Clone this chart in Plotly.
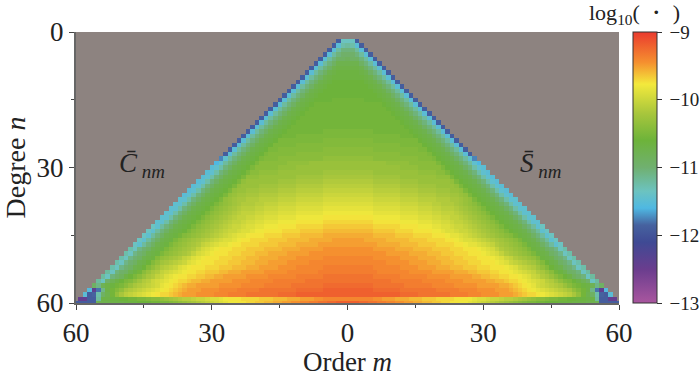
import plotly.graph_objects as go

# Cell readings, one list per degree n, for |order| = 0, 1, ... n.
# Unit: 1/20 of a decade above 1e-13 (80 = -9, 60 = -10, 40 = -11, 20 = -12, 0 = -13).
d02 = [33,33,22]
d03 = [36,35,30,22]
d04 = [39,39,36,30,22]
d05 = [41,41,39,36,30,22]
d06 = [43,42,42,39,36,30,22]
d07 = [45,45,45,42,39,36,30,22]
d08 = [46,46,46,45,42,39,36,30,22]
d09 = [47,47,47,46,45,42,39,36,30,22]
d10 = [47,47,47,47,46,45,42,39,36,30,22]
d11 = [48,48,48,48,47,46,45,42,39,36,30,22]
d12 = [48,48,48,48,48,47,46,45,42,39,36,30,22]
d13 = [48,48,48,48,48,48,47,46,45,42,39,36,30,22]
d14 = [48,48,48,48,48,48,48,47,46,45,42,39,36,30,22]
d15 = [49,49,49,49,48,48,48,48,47,46,45,42,39,36,30,22]
d16 = [49,49,49,49,49,49,49,49,48,47,46,45,42,39,36,30,22]
d17 = [49,49,49,49,49,49,49,49,49,48,47,46,45,42,39,36,30,22]
d18 = [49,49,49,49,49,49,49,49,49,49,48,47,46,45,42,39,36,30,22]
d19 = [49,49,49,49,49,49,49,49,49,49,49,48,47,46,45,42,39,36,30,22]
d20 = [49,49,49,49,49,49,49,49,49,49,49,49,48,47,46,45,42,39,36,30,22]
d21 = [49,49,49,49,49,49,49,49,49,49,49,49,49,48,47,46,45,42,39,36,30,22]
d22 = [50,50,50,50,50,50,49,49,49,49,49,49,49,49,48,47,46,45,42,39,36,30,22]
d23 = [50,50,50,50,50,50,50,50,50,50,50,50,49,49,49,48,47,46,45,42,39,36,30,22]
d24 = [51,51,51,51,51,51,50,50,50,50,50,50,50,50,50,50,48,47,46,45,42,39,36,30,22]
d25 = [51,51,51,51,51,51,51,51,51,51,51,51,50,50,50,50,50,48,47,46,45,42,39,36,30,22]
d26 = [52,52,52,52,52,52,51,51,51,51,51,51,51,51,51,51,50,50,48,47,46,45,42,39,36,30,22]
d27 = [52,52,52,52,52,52,52,52,52,52,52,52,51,51,51,51,51,51,50,48,47,46,45,42,39,36,30,22]
d28 = [53,53,53,53,53,53,52,52,52,52,52,52,52,52,52,52,51,51,51,50,48,47,46,45,42,39,36,31,25]
d29 = [54,54,54,54,54,54,54,54,54,53,53,53,53,53,52,52,52,52,52,52,50,48,47,46,45,42,39,36,31,28]
d30 = [54,54,54,54,54,54,54,54,54,54,54,54,53,53,53,53,52,52,52,52,52,50,48,47,46,45,42,39,35,31,30]
d31 = [55,55,55,55,55,55,54,54,54,54,54,54,54,54,54,54,53,53,53,53,52,52,50,48,47,46,45,42,39,35,31,30]
d32 = [56,56,56,56,56,56,55,55,55,55,55,55,54,54,54,54,54,54,54,54,53,53,53,50,48,47,46,45,42,39,35,31,30]
d33 = [57,57,57,57,57,57,56,56,56,56,56,56,55,55,55,55,54,54,54,54,54,54,54,53,50,48,47,46,45,42,39,35,31,30]
d34 = [58,58,58,58,58,58,57,57,57,57,57,57,56,56,56,56,55,55,55,55,54,54,54,54,53,50,48,47,46,45,42,39,35,31,30]
d35 = [59,59,59,59,59,59,58,58,58,58,58,58,57,57,57,57,56,56,56,56,55,55,55,54,54,53,50,48,47,46,45,42,39,35,31,30]
d36 = [60,60,60,60,60,60,59,59,59,59,59,59,58,58,58,58,57,57,57,57,56,56,56,55,55,54,53,50,48,47,46,45,42,39,35,31,30]
d37 = [61,61,61,61,61,61,60,60,60,60,60,60,59,59,59,59,58,58,58,58,57,57,57,56,56,55,54,53,50,48,47,46,45,42,39,35,31,31]
d38 = [62,62,62,62,62,62,61,61,61,61,61,61,60,60,60,60,59,59,59,58,58,57,57,57,56,55,54,53,52,50,48,47,46,45,42,39,35,31,31]
d39 = [63,63,63,63,63,63,62,62,62,62,62,62,61,61,61,61,60,60,60,59,59,58,58,58,57,56,55,54,53,52,50,48,47,46,45,42,39,35,31,31]
d40 = [64,64,64,64,64,64,63,63,63,63,63,63,62,62,62,62,61,61,61,60,60,59,59,59,58,57,56,55,54,53,52,50,48,47,46,45,42,39,35,31,31]
d41 = [65,65,65,65,65,65,64,64,64,64,64,64,63,63,63,63,62,62,62,61,61,60,60,59,59,58,57,56,55,54,53,52,50,48,47,46,45,42,39,35,31,31]
d42 = [66,66,66,66,66,66,65,65,65,65,65,65,64,64,64,64,63,63,63,62,62,61,61,60,59,59,58,57,56,55,54,53,52,50,48,47,46,45,42,39,35,31,31]
d43 = [67,67,67,67,67,67,66,66,66,66,66,66,65,65,65,65,64,64,64,63,63,62,62,61,60,60,59,58,57,56,55,54,53,52,50,48,47,46,45,42,39,36,31,33]
d44 = [68,68,68,68,68,68,67,67,67,67,67,66,66,66,66,65,65,65,65,64,64,63,62,62,61,60,60,59,58,57,56,55,54,53,52,50,48,47,46,45,42,39,36,31,33]
d45 = [69,69,69,69,69,69,68,68,68,68,68,67,67,67,67,66,66,66,66,65,65,65,64,63,63,62,61,60,59,58,57,56,55,54,53,52,51,49,47,46,45,42,39,36,31,33]
d46 = [70,70,70,70,69,69,69,69,69,68,68,68,68,68,67,67,67,67,66,66,66,66,65,65,64,63,62,62,61,60,59,58,57,56,55,54,53,52,50,47,46,45,42,39,36,31,33]
d47 = [70,70,70,70,70,70,70,69,69,69,69,69,68,68,68,68,67,67,67,67,66,66,66,66,65,65,64,63,63,62,61,60,59,57,56,55,54,53,52,50,47,46,45,42,39,36,31,33]
d48 = [71,71,71,71,71,71,70,70,70,70,70,69,69,69,69,68,68,68,68,67,67,67,67,66,66,66,65,65,65,64,63,62,61,59,57,56,55,54,53,52,50,47,46,45,42,40,38,33,35]
d49 = [71,71,71,71,71,71,71,71,71,70,70,70,70,70,69,69,69,69,68,68,68,67,67,67,66,66,66,65,65,65,64,63,62,61,59,57,56,55,54,53,52,50,47,46,45,42,40,38,33,35]
d50 = [72,72,72,72,72,72,71,71,71,71,71,71,70,70,70,70,69,69,69,69,68,68,68,67,67,67,66,66,66,65,65,65,64,63,62,60,59,57,56,55,54,53,51,47,46,45,42,40,38,33,35]
d51 = [72,72,72,72,72,72,72,72,72,71,71,71,71,71,70,70,70,70,69,69,69,68,68,68,67,67,67,66,66,66,65,65,65,64,63,62,60,59,58,57,56,55,53,51,48,46,45,42,40,38,33,35]
d52 = [73,73,73,73,73,73,72,72,72,72,72,72,71,71,71,71,70,70,70,70,69,69,69,68,68,68,67,67,67,66,66,66,65,65,65,64,63,62,60,59,58,57,55,53,51,48,46,45,42,40,38,33,35]
d53 = [73,73,73,73,73,73,73,72,72,72,72,72,72,72,71,71,71,71,71,70,70,70,70,70,69,69,69,68,68,67,67,67,66,66,65,65,64,63,62,61,60,59,57,56,54,52,49,47,45,42,41,39,33,36]
d54 = [74,74,74,74,74,74,73,73,73,73,73,73,72,72,72,72,72,72,71,71,71,71,71,70,70,70,70,70,69,69,68,68,67,67,66,66,65,65,64,63,62,60,59,57,56,54,52,50,48,46,43,41,39,33,36]
d55 = [74,74,74,74,74,74,74,74,74,74,73,73,73,73,73,73,73,72,72,72,72,72,71,71,71,71,70,70,70,70,70,69,69,68,68,67,66,66,65,64,63,62,61,60,58,57,55,53,51,50,48,46,44,41,33,36]
d56 = [75,75,75,75,75,75,74,74,74,74,74,74,74,73,73,73,73,73,73,72,72,72,72,72,71,71,71,71,71,70,70,70,70,70,69,69,68,67,66,65,64,63,61,60,59,58,57,56,54,52,50,49,47,46,44,38,42]
d57 = [76,76,76,76,76,76,75,75,75,75,75,75,74,74,74,74,74,74,74,74,73,73,73,73,73,72,72,72,72,71,71,71,71,70,70,70,69,68,67,66,65,64,63,62,61,60,59,58,57,56,53,51,49,46,38,24,12,29]
d58 = [76,76,76,76,76,76,76,76,76,76,76,76,75,75,75,75,74,74,74,74,74,74,74,73,73,73,73,72,72,72,71,71,71,71,70,70,70,69,68,67,66,66,65,64,63,62,61,60,59,58,56,53,49,45,42,35,23,22,30]
d59 = [72,72,72,72,72,72,71,71,70,70,70,69,69,69,68,68,68,67,67,67,66,66,66,66,65,65,65,64,63,62,62,61,60,60,59,58,58,57,56,55,54,53,52,52,51,50,50,49,49,48,48,47,47,46,46,36,22,22,11,11]
d60 = [76,76,76,75,75,74,74,73,73,72,72,71,71,70,70,69,69,68,68,67,67,66,66,65,65,64,64,63,62,61,60,59,58,57,56,55,54,53,52,51,50,50,49,49,48,48,48,47,47,47,46,46,46,45,45,44,22,22,22,22,22]

rows = [d02,d03,d04,d05,d06,d07,d08,d09,d10,d11,d12,d13,d14,d15,d16,d17,d18,d19,d20,d21,
        d22,d23,d24,d25,d26,d27,d28,d29,d30,d31,d32,d33,d34,d35,d36,d37,d38,d39,d40,d41,
        d42,d43,d44,d45,d46,d47,d48,d49,d50,d51,d52,d53,d54,d55,d56,d57,d58,d59,d60]

orders = list(range(-60, 61))
degrees = list(range(0, 61))

z = [[None] * len(orders) for _ in degrees]
for i, row in enumerate(rows):
    n = i + 2
    for m, lev in enumerate(row):
        v = -13 + lev / 20
        z[n][60 + m] = v
        z[n][60 - m] = v

stops = [(-13, "#a9569f"), (-12.5, "#6a3d8e"), (-12.1, "#3f4a94"), (-11.85, "#46629f"),
         (-11.6, "#4fb8e2"), (-11.35, "#6cc3c0"), (-11.0, "#70b070"), (-10.6, "#6db33a"),
         (-10.2, "#a8c63c"), (-9.77, "#f3e93c"), (-9.45, "#f5902f"), (-9.0, "#ea3a2e")]
colorscale = [[(v + 13) / 4, c] for v, c in stops]

FONT = "Liberation Serif"
INK = "#222"
fig = go.Figure(go.Heatmap(
    x=orders, y=degrees, z=z, zmin=-13, zmax=-9, colorscale=colorscale, hoverongaps=False,
    colorbar=dict(
        x=(633 - 76) / 543, xanchor="left", y=0.5, yanchor="middle",
        lenmode="pixels", len=271, thicknessmode="pixels", thickness=24, xpad=0, ypad=0,
        outlinecolor="#333", outlinewidth=1, ticks="outside", ticklen=5, tickcolor="#333",
        tickvals=[-9, -10, -11, -12, -13],
        ticktext=["\u2009−9", "\u2009−10", "\u2009−11", "\u2009−12", "\u2009−13"],
        tickfont=dict(family=FONT, size=19, color=INK),
    ),
))

fig.update_layout(
    width=700, height=377, margin=dict(l=76, r=81, t=32, b=74, autoexpand=False),
    paper_bgcolor="white", plot_bgcolor="#8d8380",
    font=dict(family=FONT, color=INK),
    xaxis=dict(
        range=[-60, 60], tickvals=[-60, -30, 0, 30, 60], ticktext=["60", "30", "0", "30", "60"],
        ticks="outside", ticklen=5, tickcolor="#444", tickfont=dict(family=FONT, size=27, color=INK),
        minor=dict(tickvals=[-45, -15, 15, 45], ticks="outside", ticklen=3, tickcolor="#444"),
        showline=True, linecolor="#666", linewidth=2, showgrid=False, zeroline=False,
        title=dict(text="Order <i>m</i>", font=dict(family=FONT, size=27, color=INK), standoff=7),
    ),
    yaxis=dict(
        range=[60, 0], tickvals=[0, 30, 60], ticks="outside", ticklen=5, tickcolor="#444",
        tickfont=dict(family=FONT, size=27, color=INK),
        minor=dict(tickvals=[15, 45], ticks="outside", ticklen=3, tickcolor="#444"),
        showline=True, linecolor="#666", linewidth=2, showgrid=False, zeroline=False,
        title=dict(text="Degree <i>n</i>", font=dict(family=FONT, size=28, color=INK), standoff=6),
    ),
    annotations=[
        dict(text="log<sub>10</sub>( ・ )", xref="paper", yref="paper", x=(634 - 76) / 543, y=1.0, yshift=2,
             xanchor="center", yanchor="bottom", showarrow=False, font=dict(family=FONT, size=22, color=INK)),
        dict(text="<i>C̄</i><i><sub> nm</sub></i>", xref="x", yref="y", x=-45.5, y=29.5, showarrow=False,
             font=dict(family=FONT, size=27, color=INK)),
        dict(text="<i>S̄</i><i><sub> nm</sub></i>", xref="x", yref="y", x=42.7, y=29.5, showarrow=False,
             font=dict(family=FONT, size=27, color=INK)),
    ],
)

fig.write_html("out.html", config={"displayModeBar": False}, post_script="document.body.style.margin='0';")
